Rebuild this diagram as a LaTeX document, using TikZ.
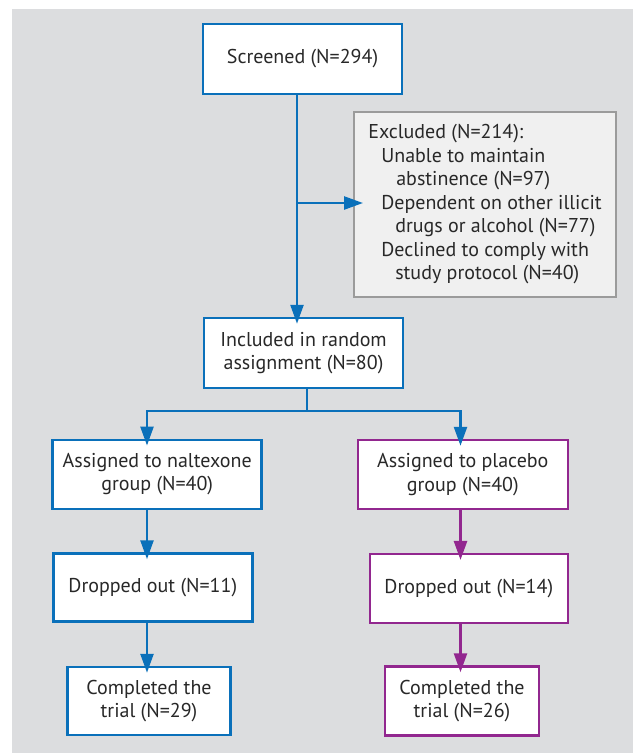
\documentclass[tikz,border=0pt]{standalone}
\usepackage{fontspec}
\setmainfont{PT Sans}
\usetikzlibrary{arrows.meta}

\definecolor{flowblue}{RGB}{10,112,186}
\definecolor{flowpurple}{RGB}{146,39,143}
\definecolor{panelgray}{RGB}{220,221,223}
\definecolor{exclgray}{RGB}{240,240,240}
\definecolor{exclline}{RGB}{155,155,155}
\definecolor{inkgray}{RGB}{40,40,40}

\begin{document}
\begin{tikzpicture}[x=1pt, y=-1pt,
    box/.style={draw, line width=2.5pt, fill=white, text=inkgray, align=center,
        font=\fontsize{20}{23.5}\selectfont},
    bluebox/.style={box, draw=flowblue},
    purplebox/.style={box, draw=flowpurple},
    flow/.style={line width=2.5pt, -{Triangle[length=19pt, width=13pt]}, shorten >=-7pt}]
    \useasboundingbox (0, 0) rectangle (633, 753);
    \fill [panelgray] (12, 9) rectangle (633, 753);

    \node [bluebox, minimum width=199pt, minimum height=70pt] (screened) at (302.5, 59) {Screened (N=294)};
    \node [box, draw=exclline, line width=2pt, fill=exclgray, align=left,
        minimum width=262pt, minimum height=185pt] (excluded) at (485, 204.5)
        {Excluded (N=214):\\
        \hspace*{13pt}Unable to maintain\\
        \hspace*{28pt}abstinence (N=97)\\
        \hspace*{13pt}Dependent on other illicit\\
        \hspace*{27pt}drugs or alcohol (N=77)\\
        \hspace*{13pt}Declined to comply with\\
        \hspace*{27pt}study protocol (N=40)};
    \node [bluebox, minimum width=199pt, minimum height=70pt] (included) at (303.5, 353) {Included in random\\assignment (N=80)};
    \node [bluebox, minimum width=209pt, minimum height=69pt] (naltexone) at (157.2, 474.3) {Assigned to naltexone\\group (N=40)};
    \node [purplebox, minimum width=210pt, minimum height=69pt] (placebo) at (462.8, 474.5) {Assigned to placebo\\group (N=40)};
    \node [bluebox, minimum width=199pt, minimum height=68pt] (dropA) at (152.8, 587.5) {Dropped out (N=11)};
    \node [purplebox, minimum width=198pt, minimum height=69pt] (dropB) at (468.8, 588.7) {Dropped out (N=14)};
    \node [bluebox, minimum width=163pt, minimum height=68pt] (doneA) at (149, 701) {Completed the\\trial (N=29)};
    \node [purplebox, minimum width=154pt, minimum height=69pt] (doneB) at (462, 701) {Completed the\\trial (N=26)};

    \coordinate (trunk) at (297, 203);
    \coordinate (split) at (307, 411);
    \coordinate (leftcol) at (147, 411);
    \coordinate (rightcol) at (460.5, 411);

    \draw [flow, flowblue] (screened.south -| trunk) -- (included.north -| trunk);
    \draw [flow, flowblue, shorten >=-10pt] (trunk) -- (trunk -| excluded.west);
    \draw [flowblue, line width=2.5pt] (included.south -| split) -- (split);
    \draw [flow, flowblue] (split) -- (leftcol) -- (naltexone.north -| leftcol);
    \draw [flow, flowblue] (split) -- (rightcol) -- (placebo.north -| rightcol);
    \draw [flow, flowblue] (naltexone.south -| leftcol) -- (dropA.north -| leftcol);
    \draw [flow, flowblue] (dropA.south -| leftcol) -- (doneA.north -| leftcol);
    \draw [flow, flowpurple] (placebo.south -| rightcol) -- (dropB.north -| rightcol);
    \draw [flow, flowpurple] (dropB.south -| rightcol) -- (doneB.north -| rightcol);
\end{tikzpicture}
\end{document}
